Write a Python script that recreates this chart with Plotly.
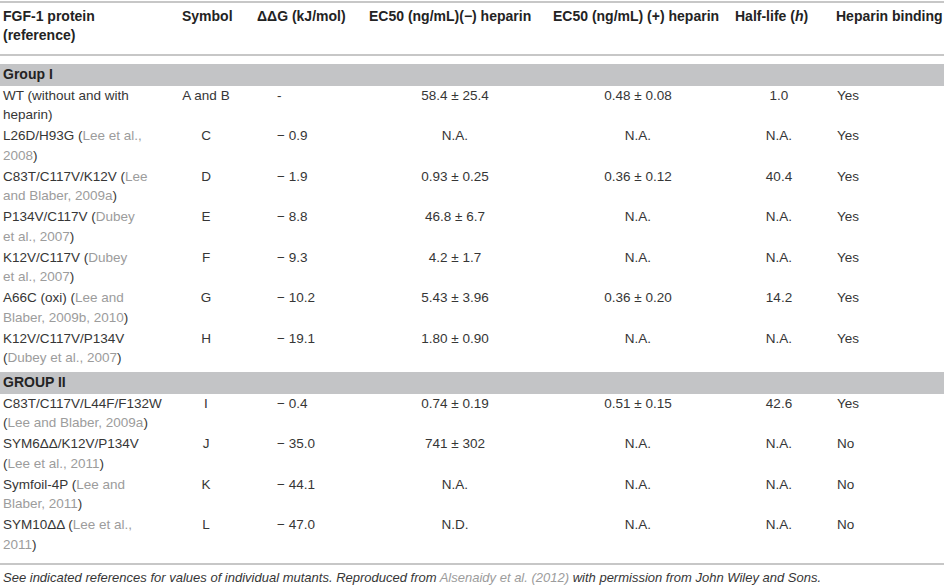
import re
import plotly.graph_objects as go

# ---- table data ----
headers = [
    "FGF-1 protein<br>(reference)",
    "Symbol",
    "\u0394\u0394G (kJ/mol)",
    "EC50 (ng/mL)(\u2212) heparin",
    "EC50 (ng/mL) (+) heparin",
    "Half-life (<i>h</i>)",
    "Heparin binding",
]

groups = ["Group I", "GROUP II"]
group_sizes = [7, 4]

# "|" = line break, {...} = citation (grey)
proteins = [
    "WT (without and with|heparin)",
    "L26D/H93G ({Lee et al.,|2008})",
    "C83T/C117V/K12V ({Lee|and Blaber, 2009a})",
    "P134V/C117V ({Dubey|et al., 2007})",
    "K12V/C117V ({Dubey|et al., 2007})",
    "A66C (oxi) ({Lee and|Blaber, 2009b, 2010})",
    "K12V/C117V/P134V|({Dubey et al., 2007})",
    "C83T/C117V/L44F/F132W|({Lee and Blaber, 2009a})",
    "SYM6\u0394\u0394/K12V/P134V|({Lee et al., 2011})",
    "Symfoil-4P ({Lee and|Blaber, 2011})",
    "SYM10\u0394\u0394 ({Lee et al.,|2011})",
]
symbols = ["A and B", "C", "D", "E", "F", "G", "H", "I", "J", "K", "L"]
ddg = ["-", "\u2212 0.9", "\u2212 1.9", "\u2212 8.8", "\u2212 9.3", "\u2212 10.2", "\u2212 19.1",
       "\u2212 0.4", "\u2212 35.0", "\u2212 44.1", "\u2212 47.0"]
ec50_minus = ["58.4 \u00b1 25.4", "N.A.", "0.93 \u00b1 0.25", "46.8 \u00b1 6.7", "4.2 \u00b1 1.7",
              "5.43 \u00b1 3.96", "1.80 \u00b1 0.90", "0.74 \u00b1 0.19", "741 \u00b1 302",
              "N.A.", "N.D."]
ec50_plus = ["0.48 \u00b1 0.08", "N.A.", "0.36 \u00b1 0.12", "N.A.", "N.A.", "0.36 \u00b1 0.20",
             "N.A.", "0.51 \u00b1 0.15", "N.A.", "N.A.", "N.A."]
half_life = ["1.0", "N.A.", "40.4", "N.A.", "N.A.", "14.2", "N.A.", "42.6", "N.A.", "N.A.", "N.A."]
heparin_binding = ["Yes", "Yes", "Yes", "Yes", "Yes", "Yes", "Yes", "Yes", "No", "No", "No"]

footnote = ("See indicated references for values of individual mutants. Reproduced from "
            "{Alsenaidy et al. (2012)} with permission from John Wiley and Sons.")

# ---- styling ----
W, H = 944, 588
FONT = "Liberation Sans, Arial, sans-serif"
TXT = "#363636"
HEAD = "#232323"
CITE = "#9c9c9c"
RULE = "#b4b4b4"
BAND = "#c3c4c6"
BODY_SIZE = 13.5
HEAD_SIZE = 14

header_x = [3, 182, 257, 369, 553, 735, 836]
col_x = [3, 206, 277, 455, 638, 779, 837]
col_pos = ["middle right", "middle center", "middle right", "middle center",
           "middle center", "middle center", "middle right"]

line_gap = 19.5
row_pitch = 40.5


def cite(s):
    return re.sub(r"\{([^}]*)\}", r'<span style="color:%s">\1</span>' % CITE, s)


def split_lines(s):
    # keep {...} spans balanced across the line break
    out, open_span = [], False
    for part in s.split("|"):
        if open_span:
            part = "{" + part
        open_span = part.count("{") > part.count("}")
        if open_span:
            part = part + "}"
        out.append(cite(part))
    return out


# vertical layout
top_rule = 2
head_y1, head_y2 = 17, 36
head_rule = 55
band_tops, row_y = [], []
y = head_rule + 9
for gi, n in enumerate(group_sizes):
    if gi > 0:
        y = row_y[-1] + line_gap + 13
    band_tops.append(y)
    first = y + 22 + 10.5
    for k in range(n):
        row_y.append(first + k * row_pitch)
bottom_rule = row_y[-1] + line_gap + 18.5
foot_y = bottom_rule + 15

fig = go.Figure()

# grey group bands
for bt in band_tops:
    fig.add_shape(type="rect", x0=0, x1=W, y0=bt, y1=bt + 22,
                  fillcolor=BAND, line=dict(width=0), layer="below")
for ry in [top_rule, head_rule, bottom_rule]:
    fig.add_shape(type="line", x0=0, x1=W, y0=ry, y1=ry,
                  line=dict(color=RULE, width=1.5))

# header
hx, hy, ht = [], [], []
for i, h in enumerate(headers):
    parts = h.split("<br>")
    for j, p in enumerate(parts):
        hx.append(header_x[i])
        hy.append(head_y1 if j == 0 else head_y2)
        ht.append("<b>" + p + "</b>")
fig.add_trace(go.Scatter(x=hx, y=hy, text=ht, mode="text", textposition="middle right",
                         textfont=dict(family=FONT, size=HEAD_SIZE, color=HEAD),
                         hoverinfo="skip", showlegend=False))

# group labels
fig.add_trace(go.Scatter(x=[3] * len(groups), y=[bt + 11 for bt in band_tops],
                         text=["<b>" + g + "</b>" for g in groups], mode="text",
                         textposition="middle right",
                         textfont=dict(family=FONT, size=HEAD_SIZE, color=HEAD),
                         hoverinfo="skip", showlegend=False))

# first column (two lines per row)
px, py, pt = [], [], []
for i, p in enumerate(proteins):
    for j, line in enumerate(split_lines(p)):
        px.append(col_x[0])
        py.append(row_y[i] + j * line_gap)
        pt.append(line)
fig.add_trace(go.Scatter(x=px, y=py, text=pt, mode="text", textposition="middle right",
                         textfont=dict(family=FONT, size=BODY_SIZE, color=TXT),
                         hoverinfo="skip", showlegend=False))

# other columns
columns = [symbols, ddg, ec50_minus, ec50_plus, half_life, heparin_binding]
for c, vals in enumerate(columns, start=1):
    fig.add_trace(go.Scatter(x=[col_x[c]] * len(vals), y=row_y, text=vals, mode="text",
                             textposition=col_pos[c],
                             textfont=dict(family=FONT, size=BODY_SIZE, color=TXT),
                             hoverinfo="skip", showlegend=False))

# footnote
fig.add_trace(go.Scatter(x=[3], y=[foot_y], text=["<i>" + cite(footnote) + "</i>"],
                         mode="text", textposition="middle right",
                         textfont=dict(family=FONT, size=13, color=TXT),
                         hoverinfo="skip", showlegend=False))

fig.update_layout(
    width=W, height=H,
    margin=dict(l=0, r=0, t=0, b=0),
    paper_bgcolor="white", plot_bgcolor="white",
    xaxis=dict(range=[0, W], visible=False, fixedrange=True),
    yaxis=dict(range=[H, 0], visible=False, fixedrange=True),
)
fig.write_html("out.html", config={"displayModeBar": False},
               post_script="document.body.style.margin='0px';")
